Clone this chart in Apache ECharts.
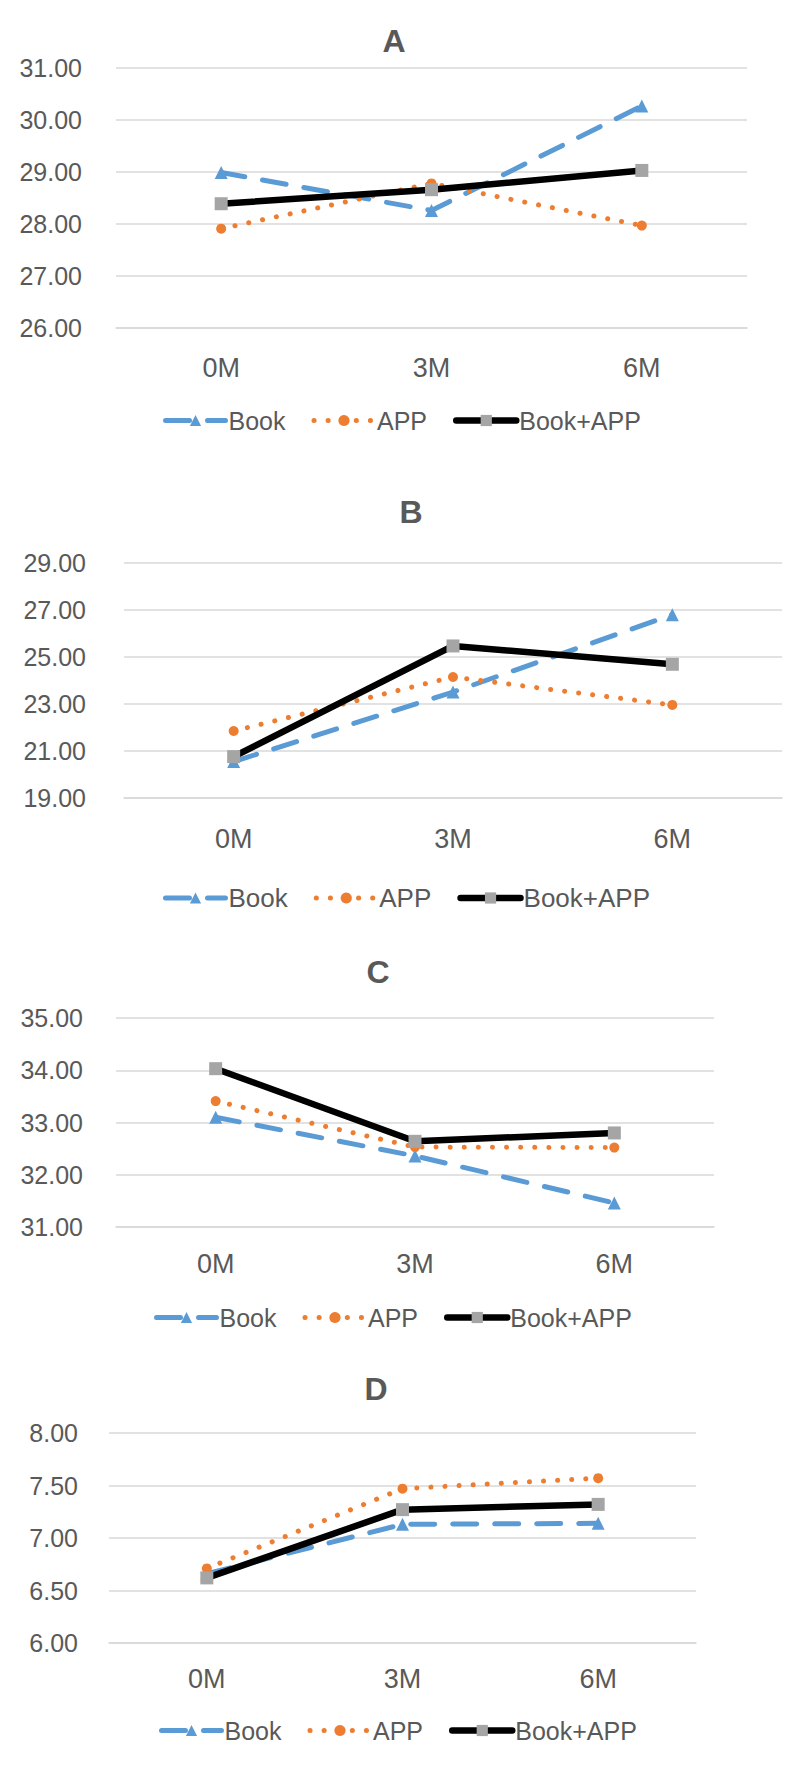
<!DOCTYPE html>
<html>
<head>
<meta charset="utf-8">
<script src="https://cdn.jsdelivr.net/npm/echarts@6/dist/echarts.min.js"></script>
<style>
html,body{margin:0;padding:0;background:#fff;}
#chart{width:796px;height:1767px;}
</style>
</head>
<body>
<div id="chart"></div>
<script>
// ---- data ----
const categories = ['0M', '3M', '6M'];
const seriesNames = ['Book', 'APP', 'Book+APP'];
const panelTitles = ['A', 'B', 'C', 'D'];

const bookA = [28.99, 28.26, 30.27];
const appA = [27.91, 28.78, 27.97];
const comboA = [28.39, 28.66, 29.03];

const bookB = [20.55, 23.51, 26.80];
const appB = [21.85, 24.15, 22.96];
const comboB = [20.76, 25.47, 24.69];

const bookC = [33.10, 32.36, 31.46];
const appC = [33.41, 32.53, 32.52];
const comboC = [34.03, 32.64, 32.80];

const bookD = [6.66, 7.13, 7.14];
const appD = [6.71, 7.47, 7.57];
const comboD = [6.62, 7.27, 7.32];

const yMinA = 26, yMaxA = 31, yStepA = 1;
const yMinB = 19, yMaxB = 29, yStepB = 2;
const yMinC = 31, yMaxC = 35, yStepC = 1;
const yMinD = 6, yMaxD = 8, yStepD = 0.5;

// ---- layout / style ----
const panels = [
  {title: panelTitles[0], data: [bookA, appA, comboA], min: yMinA, max: yMaxA, step: yStepA,
   left: 116, width: 631, top: 68, height: 260, titleX: 389, titleY: 37, yMargin: 34, xMargin: 26, legendLeft: 158, legendY: 418, legendFont: 25},
  {title: panelTitles[1], data: [bookB, appB, comboB], min: yMinB, max: yMaxB, step: yStepB,
   left: 124, width: 658, top: 563, height: 235, titleX: 406, titleY: 508, yMargin: 38, xMargin: 27, legendLeft: 158, legendY: 895, legendFont: 26},
  {title: panelTitles[2], data: [bookC, appC, comboC], min: yMinC, max: yMaxC, step: yStepC,
   left: 116, width: 598, top: 1018, height: 209, titleX: 373, titleY: 968, yMargin: 33, xMargin: 23, legendLeft: 149, legendY: 1315, legendFont: 25},
  {title: panelTitles[3], data: [bookD, appD, comboD], min: yMinD, max: yMaxD, step: yStepD,
   left: 109, width: 587, top: 1433, height: 210, titleX: 371, titleY: 1385, yMargin: 31, xMargin: 22, legendLeft: 154, legendY: 1728, legendFont: 25}
];

const FONT = "'Liberation Sans', Arial, sans-serif";
const TXT = '#595959';
const GRID = '#D9D9D9';

const styles = [
  {color: '#5B9BD5', symbol: 'triangle', symbolSize: 13, lineStyle: {width: 5, type: [24, 18], cap: 'round'}},
  {color: '#ED7D31', symbol: 'circle', symbolSize: 10, lineStyle: {width: 5, type: [0.1, 14], cap: 'round'}},
  {color: '#000000', symbol: 'rect', symbolSize: 13, markerColor: '#A5A5A5', lineStyle: {width: 6.5, type: 'solid', cap: 'round'}}
];

const option = {
  backgroundColor: '#fff',
  animation: false,
  title: [], grid: [], xAxis: [], yAxis: [], legend: [], series: []
};

panels.forEach((p, i) => {
  option.title.push({
    text: p.title, left: p.titleX, top: p.titleY - 17, textAlign: 'center',
    textStyle: {fontFamily: FONT, fontSize: 32, fontWeight: 'bold', color: TXT}
  });
  option.grid.push({left: p.left, top: p.top, width: p.width, height: p.height, containLabel: false});
  option.xAxis.push({
    type: 'category', gridIndex: i, data: categories, boundaryGap: true,
    axisLine: {show: true, lineStyle: {color: GRID, width: 1.5}},
    axisTick: {show: false},
    axisLabel: {fontFamily: FONT, fontSize: 27, color: TXT, margin: p.xMargin}
  });
  option.yAxis.push({
    type: 'value', gridIndex: i, min: p.min, max: p.max, interval: p.step,
    axisLine: {show: false}, axisTick: {show: false},
    splitLine: {show: true, lineStyle: {color: GRID, width: 1.5}},
    axisLabel: {fontFamily: FONT, fontSize: 25, color: TXT, margin: p.yMargin,
      formatter: v => v.toFixed(2)}
  });
  seriesNames.forEach((name, k) => {
    const st = styles[k];
    option.series.push({
      id: 'p' + i + 's' + k, name: name, type: 'line', xAxisIndex: i, yAxisIndex: i,
      data: p.data[k],
      symbol: st.symbol, symbolSize: st.symbolSize, showSymbol: true,
      color: st.color,
      itemStyle: {color: st.markerColor || st.color},
      lineStyle: Object.assign({color: st.color}, st.lineStyle),
      z: 2 + k
    });
  });
  option.legend.push({
    data: seriesNames.map((name, k) => ({
      name: name,
      itemStyle: {color: styles[k].markerColor || styles[k].color},
      lineStyle: Object.assign({color: styles[k].color}, styles[k].lineStyle)
    })),
    left: p.legendLeft, top: p.legendY - 15,
    itemWidth: 60, itemHeight: 14, itemGap: 26, selectedMode: false,
    textStyle: {fontFamily: FONT, fontSize: p.legendFont, color: TXT, padding: [0, 0, 0, -2]}
  });
});

const chart = echarts.init(document.getElementById('chart'), null, {renderer: 'svg', width: 796, height: 1767});
chart.setOption(option);
</script>
</body>
</html>
